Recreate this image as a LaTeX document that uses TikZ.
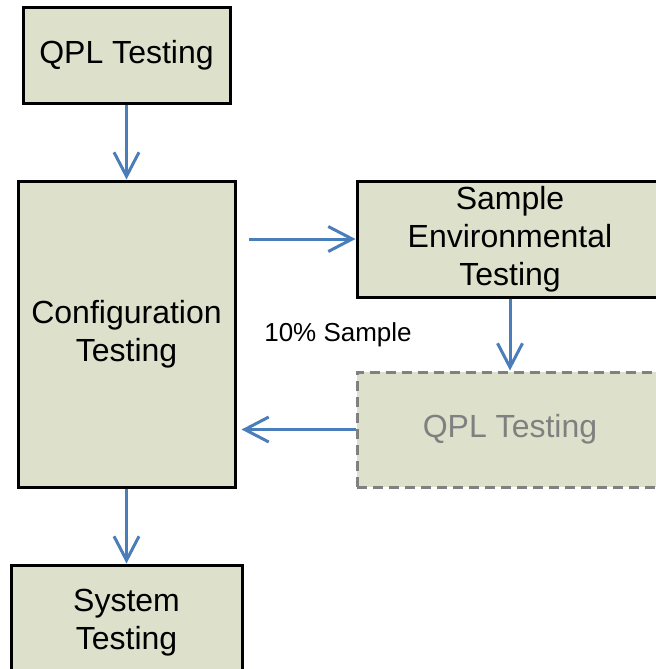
\documentclass[tikz,border=0pt]{standalone}
\usepackage{fontspec}
\setmainfont{Liberation Sans}
\usetikzlibrary{arrows.meta,positioning,calc}
\definecolor{boxfill}{RGB}{221,225,204}
\definecolor{arrowblue}{RGB}{74,126,187}
\definecolor{dimgray}{RGB}{128,128,128}
\tikzset{
    stage/.style={rectangle, draw=black, line width=1.5pt, fill=boxfill, align=center, inner sep=2pt,
        font=\fontsize{16}{19}\selectfont},
    optional/.style={stage, draw=dimgray, dash pattern=on 5pt off 3pt, text=dimgray},
    flow/.style={-{Straight Barb[length=12pt,width=12.5pt]}, line width=1.5pt, draw=arrowblue}
}
\begin{document}
\begin{tikzpicture}[x=0.5pt,y=-0.5pt]
\useasboundingbox (0,0) rectangle (655,669);
\node[stage, minimum width=103.5pt, minimum height=48pt](1) at (126.5,55){QPL Testing};
\node[stage, minimum width=108.5pt, minimum height=153pt](2) at (126.5,334){Configuration\\Testing};
\node[stage, minimum width=153pt, minimum height=58pt](3) at (510,239){Sample\\Environmental\\Testing};
\node[optional, minimum width=153pt, minimum height=57.5pt](4) at (510,429.5){QPL Testing};
\node[stage, minimum width=115.5pt, minimum height=58pt](5) at (126.5,623){System\\Testing};
\node[font=\fontsize{13}{15}\selectfont](6) at (338,335){10\% Sample};
\draw[flow](1)--(2);
\draw[flow, shorten <=6pt](2.east |- 3.west)--(3.west);
\draw[flow](3)--(4);
\draw[flow, shorten >=2.5pt](4.west)--(2.east |- 4.west);
\draw[flow](2)--(5);
\end{tikzpicture}
\end{document}
